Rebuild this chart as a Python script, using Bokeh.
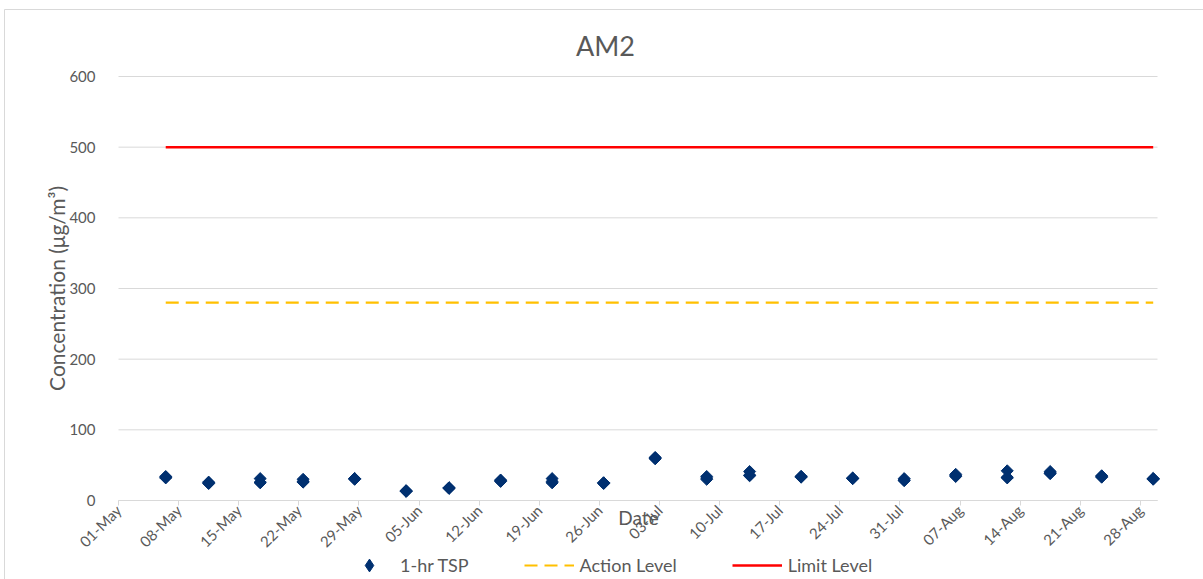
import math
from datetime import datetime, timedelta

from bokeh.plotting import figure
from bokeh.models import (ColumnDataSource, Range1d, FixedTicker, DatetimeTickFormatter,
                          Legend, LegendItem, Label)
from bokeh.embed import file_html
from bokeh.resources import INLINE

# ---------------- data ----------------
year = 2023
dates = ["06-May", "11-May", "17-May", "22-May", "28-May", "03-Jun", "08-Jun",
         "14-Jun", "20-Jun", "26-Jun", "02-Jul", "08-Jul", "13-Jul", "19-Jul",
         "25-Jul", "31-Jul", "06-Aug", "12-Aug", "17-Aug", "23-Aug", "29-Aug"]
tsp_1 = [34, 26, 31, 30, 31, 13, 18, 29, 31, 25, 60, 34, 41, 34, 31, 31, 37, 42, 41, 35, 31]
tsp_2 = [33, 24, 25, 26, 30, 14, 17, 27, 25, 25, 61, 30, 35, 34, 32, 28, 34, 32, 38, 33, 31]
tsp_3 = [32, 25, 26, 27, 31, 13, 18, 28, 27, 24, 59, 32, 36, 33, 31, 29, 35, 33, 39, 34, 30]
action_level = 280
limit_level = 500
tick_labels = ["01-May", "08-May", "15-May", "22-May", "29-May", "05-Jun", "12-Jun",
               "19-Jun", "26-Jun", "03-Jul", "10-Jul", "17-Jul", "24-Jul", "31-Jul",
               "07-Aug", "14-Aug", "21-Aug", "28-Aug"]
y_ticks = [0, 100, 200, 300, 400, 500, 600]
y_max = 600
x_start = "01-May"
x_end = "30-Aug"

# ---------------- layout constants (page pixels) ----------------
W, H = 1203, 579
PLOT_L, PLOT_R, PLOT_T, PLOT_B = 118, 1157, 76, 500   # value area of the chart
BORDER_L, BORDER_T = 4, 9                             # chart-area border


def to_dt(s):
    return datetime.strptime(f"{s}-{year}", "%d-%b-%Y")


def ms(dt):
    return (dt - datetime(1970, 1, 1)).total_seconds() * 1000.0


t0, t1 = ms(to_dt(x_start)), ms(to_dt(x_end))
px_x = (PLOT_R - PLOT_L) / (t1 - t0)          # pixels per ms
px_y = (PLOT_B - PLOT_T) / y_max              # pixels per unit


def xpx(px):
    return t0 + (px - PLOT_L) / px_x


def ypx(py):
    return (PLOT_B - py) / px_y


half_day = timedelta(hours=12)  # Excel date axis: points sit between tick marks
day_x = [ms(to_dt(d) + half_day) for d in dates]

xs, ys = [], []
for series in (tsp_1, tsp_2, tsp_3):
    xs.extend(day_x)
    ys.extend(series)
src = ColumnDataSource(dict(x=xs, y=ys))

FONT = "Lato"
TXT = "#595959"
GRID = "#d9d9d9"
NAVY = "#003070"

p = figure(width=W, height=H, x_axis_type="datetime",
           x_range=Range1d(xpx(0), xpx(W)),
           y_range=Range1d(ypx(H), ypx(0)),
           output_backend="svg", toolbar_location=None,
           min_border_left=0, min_border_right=0,
           min_border_top=0, min_border_bottom=0)

p.outline_line_color = None
p.background_fill_color = "white"
p.border_fill_color = "white"
p.xgrid.visible = False
p.ygrid.visible = False

# chart-area border (left and top edges)
p.segment(x0=[xpx(BORDER_L), xpx(BORDER_L)], y0=[ypx(BORDER_T), ypx(BORDER_T)],
          x1=[xpx(BORDER_L), xpx(W)], y1=[ypx(H), ypx(BORDER_T)],
          line_color=GRID, line_width=1)

# horizontal gridlines (value band only)
n = len(y_ticks)
p.segment(x0=[t0] * n, y0=y_ticks, x1=[t1] * n, y1=y_ticks,
          line_color=GRID, line_width=1)

# y axis pinned at the first date
p.yaxis.fixed_location = t0
p.yaxis.bounds = (0, y_max)
p.yaxis.ticker = FixedTicker(ticks=y_ticks)
p.yaxis.axis_line_color = None
p.yaxis.major_tick_line_color = None
p.yaxis.minor_tick_line_color = None
p.yaxis.major_label_text_font = FONT
p.yaxis.major_label_text_font_size = "15px"
p.yaxis.major_label_text_color = TXT
p.yaxis.major_label_standoff = 17

# x axis pinned at value 0
p.xaxis.fixed_location = 0
p.xaxis.bounds = (t0, t1)
p.xaxis.ticker = FixedTicker(ticks=[ms(to_dt(t)) for t in tick_labels])
fmt = "%d-%b"
p.xaxis.formatter = DatetimeTickFormatter(days=fmt, months=fmt, years=fmt, hours=fmt,
                                          hourmin=fmt, minutes=fmt, minsec=fmt,
                                          seconds=fmt, milliseconds=fmt, microseconds=fmt)
p.xaxis.major_label_orientation = math.pi / 4
p.xaxis.axis_line_color = GRID
p.xaxis.major_tick_line_color = GRID
p.xaxis.major_tick_in = 0
p.xaxis.major_tick_out = 5
p.xaxis.minor_tick_line_color = None
p.xaxis.major_label_text_font = FONT
p.xaxis.major_label_text_font_size = "15px"
p.xaxis.major_label_text_color = TXT
p.xaxis.major_label_standoff = 2

# threshold lines
line_x = [day_x[0], day_x[-1]]
r_action = p.line(line_x, [action_level, action_level], line_color="#FFC000",
                  line_width=2.2, line_dash="13 7")
r_limit = p.line(line_x, [limit_level, limit_level], line_color="#FF0000",
                 line_width=2.5)

# points (rotated squares = Excel diamonds)
p.scatter("x", "y", source=src, marker="square", angle=math.pi / 4,
          size=8.5, fill_color=NAVY, line_color=NAVY)
# legend swatch for the points (hidden renderer, drawn only in the legend)
r_key = p.scatter(x=[day_x[0]], y=[tsp_1[0]], marker="diamond", size=13,
                  fill_color=NAVY, line_color=NAVY, visible=False)

# texts
p.add_layout(Label(x=xpx(605), y=ypx(45), text="AM2", text_font=FONT,
                   text_font_size="27px", text_color=TXT,
                   text_align="center", text_baseline="middle"))
p.add_layout(Label(x=xpx(56), y=ypx(288), text="Concentration (μg/m³)",
                   angle=math.pi / 2, text_font=FONT, text_font_size="21px",
                   text_color=TXT, text_align="center", text_baseline="middle"))
p.add_layout(Label(x=xpx(638), y=ypx(517), text="Date", text_font=FONT,
                   text_font_size="19px", text_color=TXT,
                   text_align="center", text_baseline="middle"))

legend = Legend(items=[LegendItem(label="1-hr TSP", renderers=[r_key]),
                       LegendItem(label="Action Level", renderers=[r_action]),
                       LegendItem(label="Limit Level", renderers=[r_limit])],
                orientation="horizontal", location=(344, -2),
                glyph_width=50, glyph_height=32, label_standoff=6, spacing=55,
                padding=0, margin=0, border_line_color=None,
                background_fill_alpha=0, inactive_fill_alpha=0,
                label_text_font=FONT, label_text_font_size="18px",
                label_text_color=TXT)
p.add_layout(legend, "center")

open("out.html", "w").write(file_html(p, INLINE))
